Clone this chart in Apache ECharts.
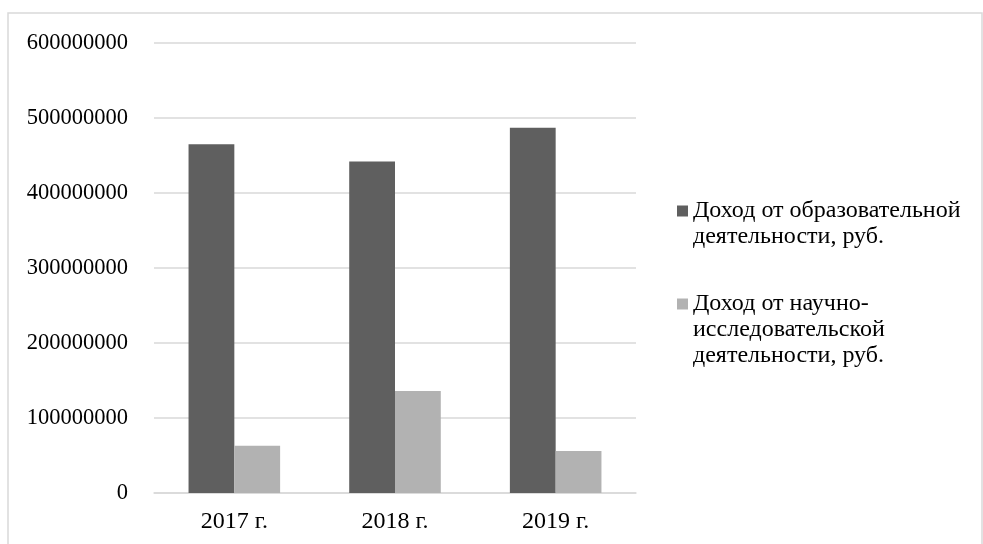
<!DOCTYPE html>
<html>
<head>
<meta charset="utf-8">
<script src="https://cdn.jsdelivr.net/npm/echarts@6/dist/echarts.min.js"></script>
<style>
  html, body { margin: 0; padding: 0; background: #fff; }
  #chart { width: 983px; height: 544px; }
</style>
</head>
<body>
<div id="chart"></div>
<script>
// данные с графика
const years = ['2017 г.', '2018 г.', '2019 г.']
const eduIncome = [465000000, 442000000, 487000000]
const sciIncome = [63000000, 136000000, 56000000]
const eduName = 'Доход от образовательной\nдеятельности, руб.'
const sciName = 'Доход от научно-\nисследовательской\nдеятельности, руб.'

const font = '"Liberation Serif", "Times New Roman", serif'
const chart = echarts.init(document.getElementById('chart'))

// пустые строки сверху, чтобы маркер стоял напротив первой строки
const legendBase = {
  orient: 'vertical',
  left: 677,
  padding: 0,
  itemWidth: 11,
  itemHeight: 11,
  itemGap: 5,
  icon: 'rect',
  textStyle: {
    fontFamily: font,
    fontSize: 24,
    lineHeight: 26,
    color: '#000'
  }
}

const option = {
  animation: false,
  graphic: [{
    type: 'rect',
    shape: { x: 8, y: 13, width: 974, height: 600 },
    style: { fill: 'none', stroke: '#d9d9d9', lineWidth: 1.5 }
  }],
  legend: [
    {
      ...legendBase,
      top: 172,
      data: [eduName],
      formatter: name => '\n' + name
    },
    {
      ...legendBase,
      top: 239,
      data: [sciName],
      formatter: name => '\n\n' + name
    }
  ],
  grid: {
    left: 154,
    right: 347,
    top: 43,
    bottom: 51,
    containLabel: false
  },
  xAxis: {
    type: 'category',
    data: years,
    axisLine: { lineStyle: { color: '#d9d9d9', width: 1.5 } },
    axisTick: { show: false },
    axisLabel: {
      fontFamily: font,
      fontSize: 24,
      color: '#000',
      margin: 17
    }
  },
  yAxis: {
    type: 'value',
    min: 0,
    max: 600000000,
    interval: 100000000,
    axisLine: { show: false },
    axisTick: { show: false },
    axisLabel: {
      fontFamily: font,
      fontSize: 22.5,
      color: '#000',
      margin: 26,
      formatter: v => String(v)
    },
    splitLine: {
      lineStyle: { color: '#d9d9d9', width: 1.5 }
    }
  },
  series: [
    {
      name: eduName,
      type: 'bar',
      data: eduIncome,
      barGap: '0%',
      barCategoryGap: '43%',
      itemStyle: { color: '#5f5f5f' }
    },
    {
      name: sciName,
      type: 'bar',
      data: sciIncome,
      itemStyle: { color: '#b2b2b2' }
    }
  ]
}

chart.setOption(option)
</script>
</body>
</html>
